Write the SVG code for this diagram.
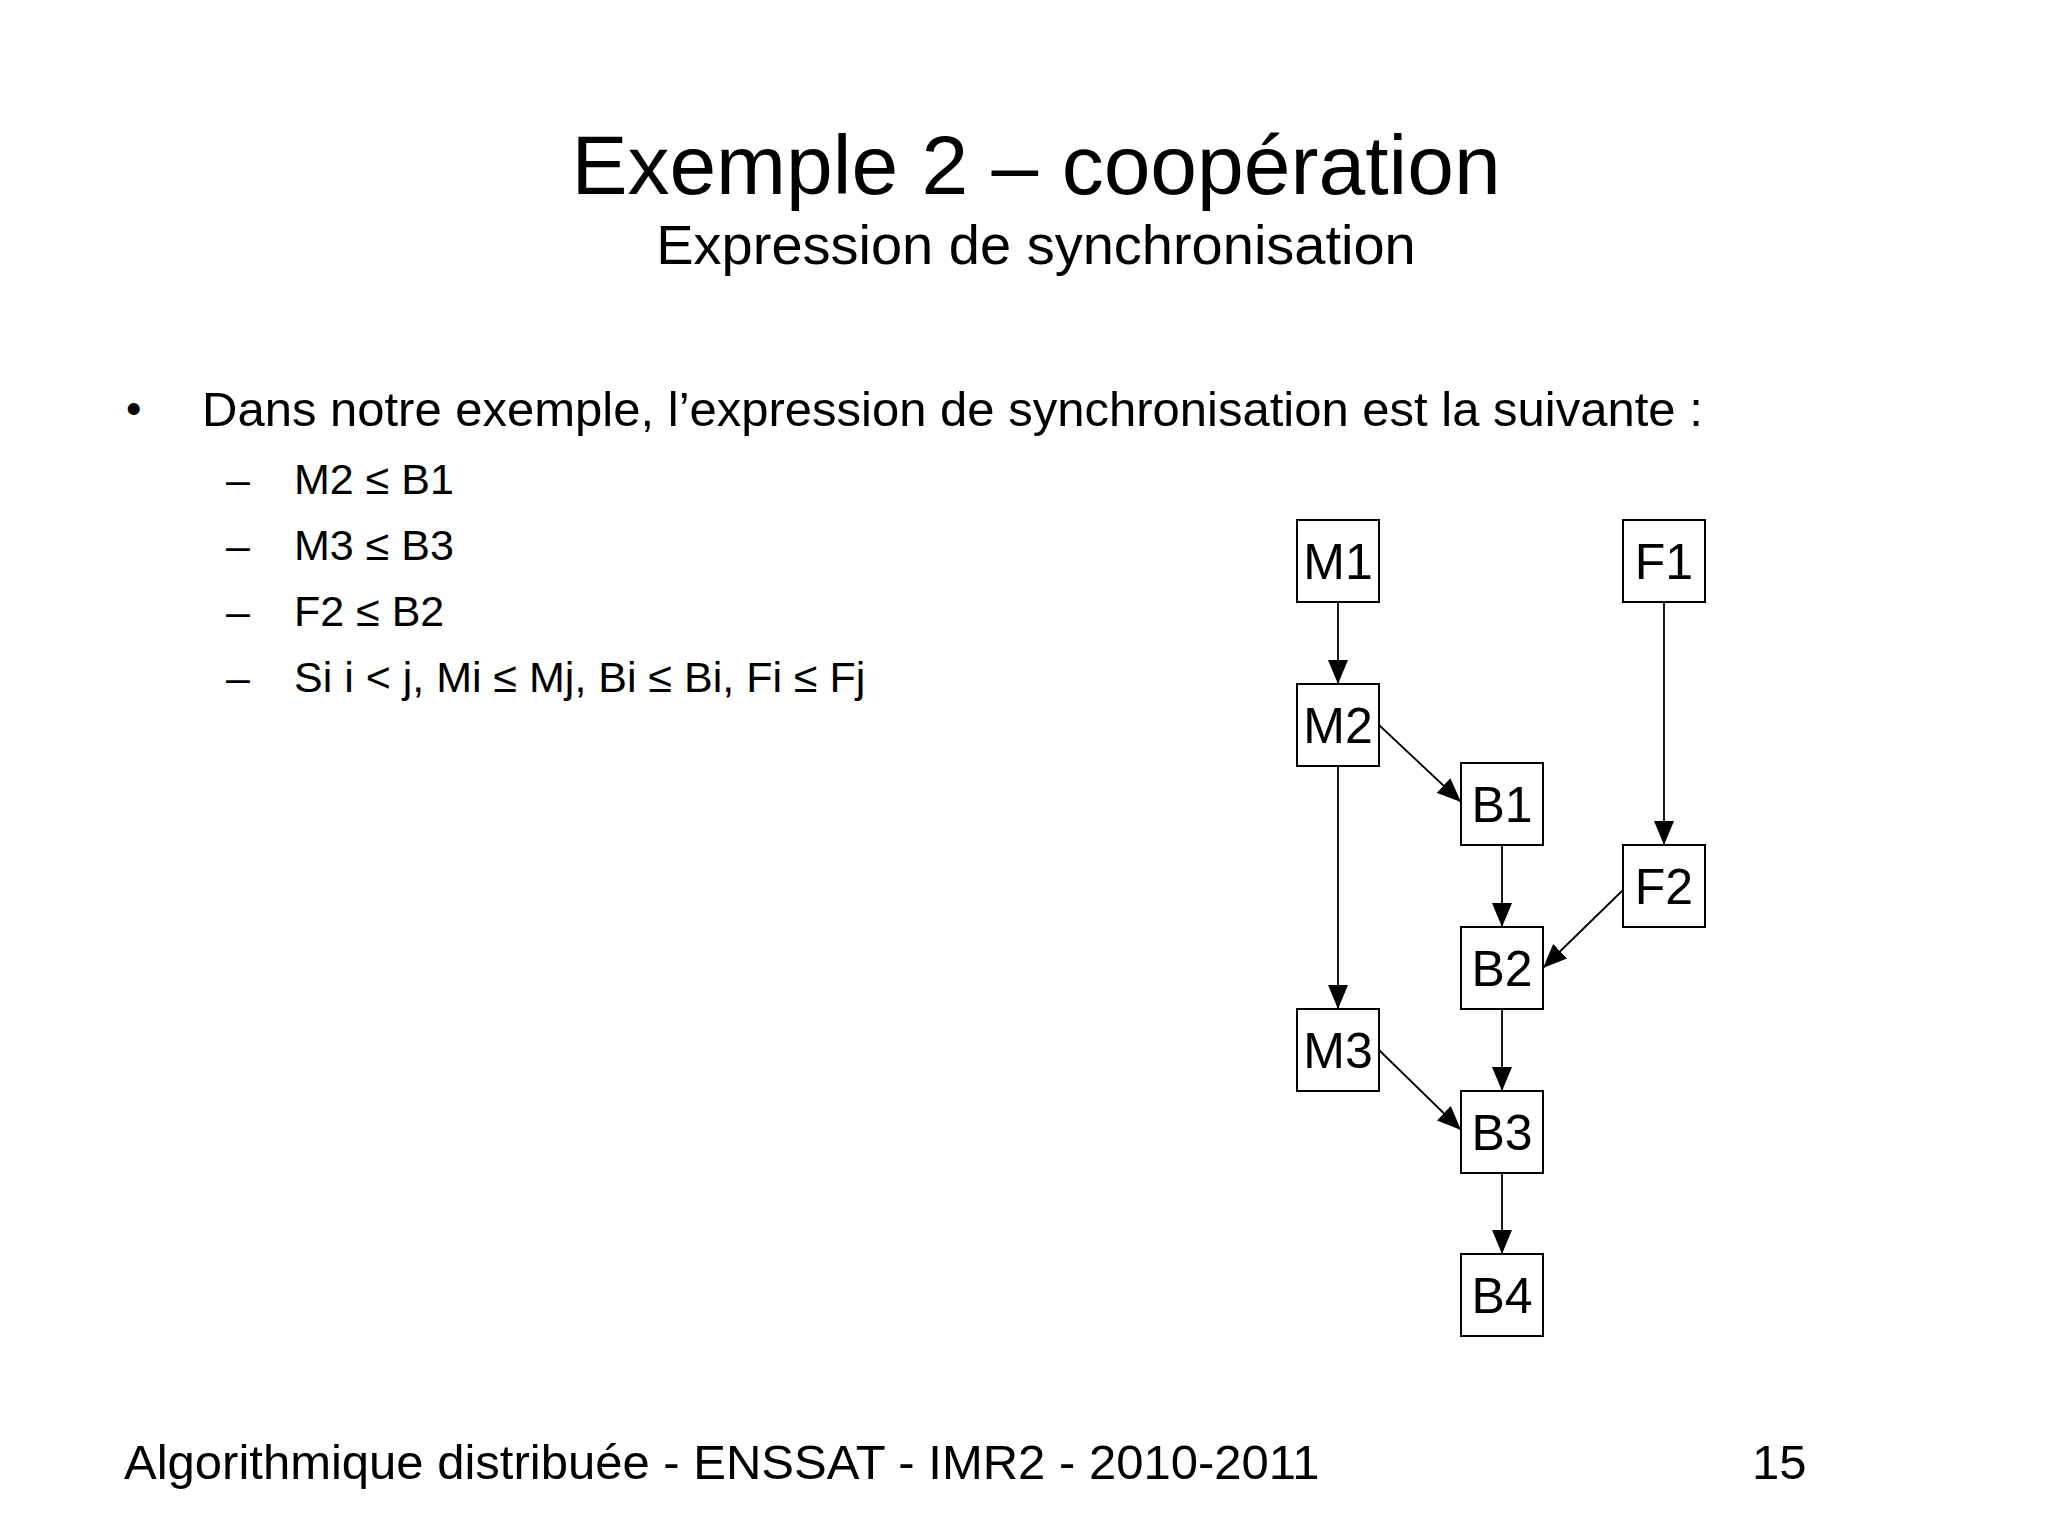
<svg xmlns="http://www.w3.org/2000/svg" width="2048" height="1536" viewBox="0 0 2048 1536">
<style>
text{font-family:"Liberation Sans",Arial,sans-serif;fill:#000}
.node rect{fill:#fff;stroke:#000;stroke-width:2}
.node text{font-size:50px;text-anchor:middle}
.edges line{stroke:#000;stroke-width:1.8}
</style>
<defs>
<marker id="ah" viewBox="0 0 24 20" refX="24" refY="10" markerWidth="24" markerHeight="20" markerUnits="userSpaceOnUse" orient="auto">
<path d="M0,0 L24,10 L0,20 Z" fill="#000"/>
</marker>
</defs>
<rect width="2048" height="1536" fill="#fff"/>
<text x="1036" y="194" font-size="84" text-anchor="middle">Exemple 2 – coopération</text>
<text x="1036" y="264" font-size="56" text-anchor="middle">Expression de synchronisation</text>
<text x="126" y="424" font-size="44">•</text>
<text x="202" y="426" font-size="49">Dans notre exemple, l’expression de synchronisation est la suivante :</text>
<g font-size="43">
<text x="226" y="494">–</text><text x="294" y="494">M2 ≤ B1</text>
<text x="226" y="560">–</text><text x="294" y="560">M3 ≤ B3</text>
<text x="226" y="626">–</text><text x="294" y="626">F2 ≤ B2</text>
<text x="226" y="692">–</text><text x="294" y="692">Si i &lt; j, Mi ≤ Mj, Bi ≤ Bi, Fi ≤ Fj</text>
</g>
<text x="124" y="1479" font-size="49">Algorithmique distribuée - ENSSAT - IMR2 - 2010-2011</text>
<text x="1752" y="1479" font-size="49">15</text>
<g class="edges">
<line x1="1338" y1="602" x2="1338" y2="684" marker-end="url(#ah)"/>
<line x1="1379" y1="725" x2="1461" y2="802" marker-end="url(#ah)"/>
<line x1="1338" y1="766" x2="1338" y2="1009" marker-end="url(#ah)"/>
<line x1="1664" y1="602" x2="1664" y2="845" marker-end="url(#ah)"/>
<line x1="1502" y1="845" x2="1502" y2="927" marker-end="url(#ah)"/>
<line x1="1623" y1="890" x2="1543" y2="968" marker-end="url(#ah)"/>
<line x1="1502" y1="1009" x2="1502" y2="1091" marker-end="url(#ah)"/>
<line x1="1379" y1="1050" x2="1461" y2="1130" marker-end="url(#ah)"/>
<line x1="1502" y1="1173" x2="1502" y2="1254" marker-end="url(#ah)"/>
</g>
<g id="M1" class="node"><rect x="1297" y="520" width="82" height="82"/><text x="1338" y="579">M1</text></g>
<g id="F1" class="node"><rect x="1623" y="520" width="82" height="82"/><text x="1664" y="579">F1</text></g>
<g id="M2" class="node"><rect x="1297" y="684" width="82" height="82"/><text x="1338" y="743">M2</text></g>
<g id="B1" class="node"><rect x="1461" y="763" width="82" height="82"/><text x="1502" y="822">B1</text></g>
<g id="F2" class="node"><rect x="1623" y="845" width="82" height="82"/><text x="1664" y="904">F2</text></g>
<g id="B2" class="node"><rect x="1461" y="927" width="82" height="82"/><text x="1502" y="986">B2</text></g>
<g id="M3" class="node"><rect x="1297" y="1009" width="82" height="82"/><text x="1338" y="1068">M3</text></g>
<g id="B3" class="node"><rect x="1461" y="1091" width="82" height="82"/><text x="1502" y="1150">B3</text></g>
<g id="B4" class="node"><rect x="1461" y="1254" width="82" height="82"/><text x="1502" y="1313">B4</text></g>
</svg>
